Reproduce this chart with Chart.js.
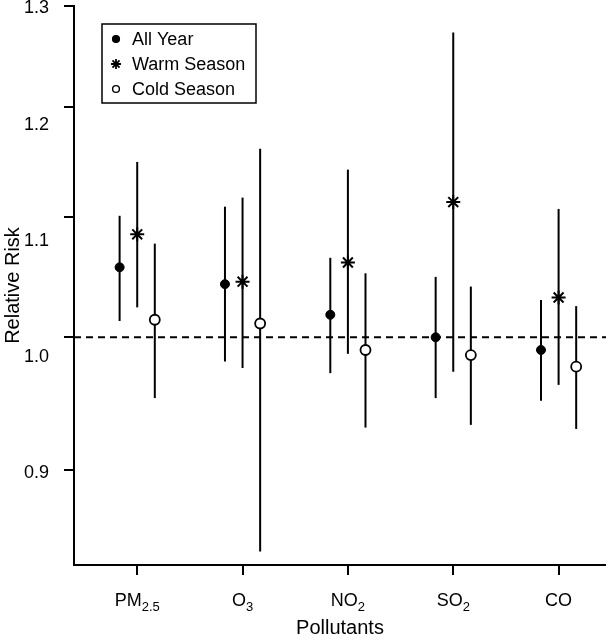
<!DOCTYPE html>
<html>
<head>
<meta charset="utf-8">
<script src="https://cdn.jsdelivr.net/npm/chart.js@4.4.1/dist/chart.umd.min.js"></script>
<style>
  html, body { margin: 0; padding: 0; background: #fff; }
  #wrap { width: 606px; height: 640px; }
</style>
</head>
<body>
<div id="wrap"><canvas id="rrChart"></canvas></div>
<script>
// Pollutant names, split into base text and subscript
const pollutants = ['PM', 'O', 'NO', 'SO', 'CO'];
const pollutantSubs = ['2.5', '3', '2', '2', ''];

// Relative risk with 95% CI
const allYearRR   = [1.057, 1.043, 1.018, 1.000, 0.990];
const allYearLow  = [1.013, 0.981, 0.972, 0.953, 0.951];
const allYearHigh = [1.101, 1.109, 1.065, 1.049, 1.030];

const warmRR   = [1.085, 1.045, 1.061, 1.113, 1.032];
const warmLow  = [1.024, 0.976, 0.987, 0.973, 0.963];
const warmHigh = [1.149, 1.117, 1.142, 1.273, 1.107];

const coldRR   = [1.014, 1.011, 0.990, 0.986, 0.977];
const coldLow  = [0.953, 0.844, 0.931, 0.933, 0.930];
const coldHigh = [1.077, 1.161, 1.052, 1.041, 1.025];

const yTicks = [0.9, 1.0, 1.1, 1.2, 1.3];
const refLine = 1.0;

const FONT = '"Liberation Sans", Arial, sans-serif';
const Y_MIN = 0.835, Y_MAX = 1.3;
const X_MIN = 0.4, X_MAX = 5.45;

// the original figure has log-spaced tick marks but evenly spaced labels,
// so the labels live on a second linear axis lined up with the first and last tick
const tLo = yTicks[0], tHi = yTicks[yTicks.length - 1];
const labelMin = tLo - (tHi - tLo) * Math.log(tLo / Y_MIN) / Math.log(tHi / tLo);
const labelMax = tHi + (tHi - tLo) * Math.log(Y_MAX / tHi) / Math.log(tHi / tLo);

const series = [
  { label: 'All Year', rr: allYearRR, low: allYearLow, high: allYearHigh,
    shift: -0.167, style: 'circle', radius: 4.5, fill: '#000', bw: 1 },
  { label: 'Warm Season', rr: warmRR, low: warmLow, high: warmHigh,
    shift: 0, style: 'star', radius: 7, fill: '#000', bw: 2 },
  { label: 'Cold Season', rr: coldRR, low: coldLow, high: coldHigh,
    shift: 0.167, style: 'circle', radius: 5, fill: '#fff', bw: 1.8 }
];

function drawMarker(ctx, style, fill, r, x, y, lw) {
  ctx.beginPath();
  if (style === 'star') {
    for (let k = 0; k < 4; k++) {
      const a = k * Math.PI / 4;
      ctx.moveTo(x - r * Math.cos(a), y - r * Math.sin(a));
      ctx.lineTo(x + r * Math.cos(a), y + r * Math.sin(a));
    }
  } else {
    ctx.arc(x, y, r, 0, Math.PI * 2);
    ctx.fillStyle = fill;
    ctx.fill();
  }
  ctx.lineWidth = lw;
  ctx.strokeStyle = '#000';
  ctx.stroke();
}

// fixed axis sizes so the plot box sits where the original does
function fixSize(size) {
  return scale => {
    if (scale.isHorizontal()) scale.height = size; else scale.width = size;
    scale.paddingTop = 0;
    scale.paddingBottom = 0;
    scale.paddingLeft = 0;
    scale.paddingRight = 0;
  };
}

// CI whiskers and dashed reference line
const errorBars = {
  id: 'errorBars',
  beforeDatasetsDraw(chart) {
    const { ctx, chartArea, scales: { x, y } } = chart;
    ctx.save();
    ctx.strokeStyle = '#000';
    ctx.lineWidth = 2;
    const ry = y.getPixelForValue(refLine);
    ctx.setLineDash([7, 5]);
    ctx.beginPath();
    ctx.moveTo(chartArea.left, ry);
    ctx.lineTo(chartArea.right, ry);
    ctx.stroke();
    ctx.setLineDash([]);
    series.forEach(s => {
      s.rr.forEach((v, i) => {
        const px = x.getPixelForValue(i + 1 + s.shift);
        ctx.beginPath();
        ctx.moveTo(px, y.getPixelForValue(s.low[i]));
        ctx.lineTo(px, y.getPixelForValue(s.high[i]));
        ctx.stroke();
      });
    });
    ctx.restore();
  }
};

// x labels with real subscripts
const subLabels = {
  id: 'subLabels',
  afterDraw(chart) {
    const { ctx, scales: { x } } = chart;
    ctx.save();
    ctx.fillStyle = '#000';
    ctx.textBaseline = 'alphabetic';
    const base = x.top + 41;
    pollutants.forEach((p, i) => {
      ctx.font = '18px ' + FONT;
      const w1 = ctx.measureText(p).width;
      ctx.font = '13px ' + FONT;
      const w2 = pollutantSubs[i] ? ctx.measureText(pollutantSubs[i]).width : 0;
      const cx = x.getPixelForValue(i + 1);
      const left = cx - (w1 + w2) / 2;
      ctx.font = '18px ' + FONT;
      ctx.textAlign = 'left';
      ctx.fillText(p, left, base);
      if (w2) {
        ctx.font = '13px ' + FONT;
        ctx.fillText(pollutantSubs[i], left + w1, base + 5);
      }
    });
    ctx.restore();
  }
};

// boxed legend inside the plot
const boxLegend = {
  id: 'boxLegend',
  afterDraw(chart) {
    const { ctx, chartArea } = chart;
    const bx = chartArea.left + 28, by = chartArea.top + 18;
    const bw = 154, bh = 79, rowH = 25;
    ctx.save();
    ctx.fillStyle = '#fff';
    ctx.fillRect(bx, by, bw, bh);
    ctx.lineWidth = 1.5;
    ctx.strokeStyle = '#000';
    ctx.strokeRect(bx, by, bw, bh);
    series.forEach((s, k) => {
      const yy = by + 15 + k * rowH;
      const r = s.style === 'star' ? 5 : 3.4;
      drawMarker(ctx, s.style, s.fill, r, bx + 14, yy, s.style === 'star' ? 1.8 : 1.4);
      ctx.fillStyle = '#000';
      ctx.font = '18px ' + FONT;
      ctx.textAlign = 'left';
      ctx.textBaseline = 'middle';
      ctx.fillText(s.label, bx + 30, yy + 1);
    });
    ctx.restore();
  }
};

const ctx = document.getElementById('rrChart').getContext('2d');
const rrChart = new Chart(ctx, {
  type: 'scatter',
  data: {
    datasets: series.map(s => ({
      label: s.label,
      data: s.rr.map((v, i) => ({ x: i + 1 + s.shift, y: v })),
      pointStyle: s.style,
      pointRadius: s.radius,
      pointHoverRadius: s.radius,
      pointBackgroundColor: s.fill,
      pointBorderColor: '#000',
      pointBorderWidth: s.bw,
      showLine: false,
      yAxisID: 'y'
    }))
  },
  options: {
    responsive: true,
    maintainAspectRatio: false,
    animation: false,
    layout: { autoPadding: false, padding: { top: 6, left: 0, right: 0, bottom: 0 } },
    plugins: {
      legend: { display: false },
      tooltip: { enabled: false }
    },
    scales: {
      x: {
        type: 'linear',
        min: X_MIN,
        max: X_MAX,
        afterBuildTicks: scale => { scale.ticks = pollutants.map((p, i) => ({ value: i + 1 })); },
        afterFit: fixSize(75),
        ticks: {
          color: 'rgba(0,0,0,0)',
          font: { family: FONT, size: 18 },
          padding: 16,
          callback: (v) => pollutants[v - 1] + pollutantSubs[v - 1]
        },
        grid: { drawOnChartArea: false, drawTicks: true, tickLength: 10, color: '#000', lineWidth: 2 },
        border: { display: true, color: '#000', width: 2 },
        title: {
          display: true, text: 'Pollutants', color: '#000',
          font: { family: FONT, size: 20 }, padding: { top: 4, bottom: 0 }
        }
      },
      y: {
        type: 'logarithmic',
        position: 'left',
        weight: 0,
        min: Y_MIN,
        max: Y_MAX,
        afterBuildTicks: scale => { scale.ticks = yTicks.map(v => ({ value: v })); },
        afterFit: fixSize(10),
        ticks: { display: false },
        grid: { drawOnChartArea: false, drawTicks: true, tickLength: 10, color: '#000', lineWidth: 2 },
        border: { display: true, color: '#000', width: 2 }
      },
      yLabels: {
        type: 'linear',
        position: 'left',
        weight: 1,
        min: labelMin,
        max: labelMax,
        afterBuildTicks: scale => { scale.ticks = yTicks.map(v => ({ value: v })); },
        afterFit: fixSize(64),
        ticks: {
          color: '#000',
          font: { family: FONT, size: 18 },
          padding: 7,
          labelOffset: 2.5,
          callback: v => v.toFixed(1)
        },
        grid: { display: false },
        border: { display: false },
        title: {
          display: true, text: 'Relative Risk', color: '#000',
          font: { family: FONT, size: 20 }, padding: { top: 1, bottom: 7 }
        }
      }
    }
  },
  plugins: [errorBars, subLabels, boxLegend]
});
</script>
</body>
</html>
